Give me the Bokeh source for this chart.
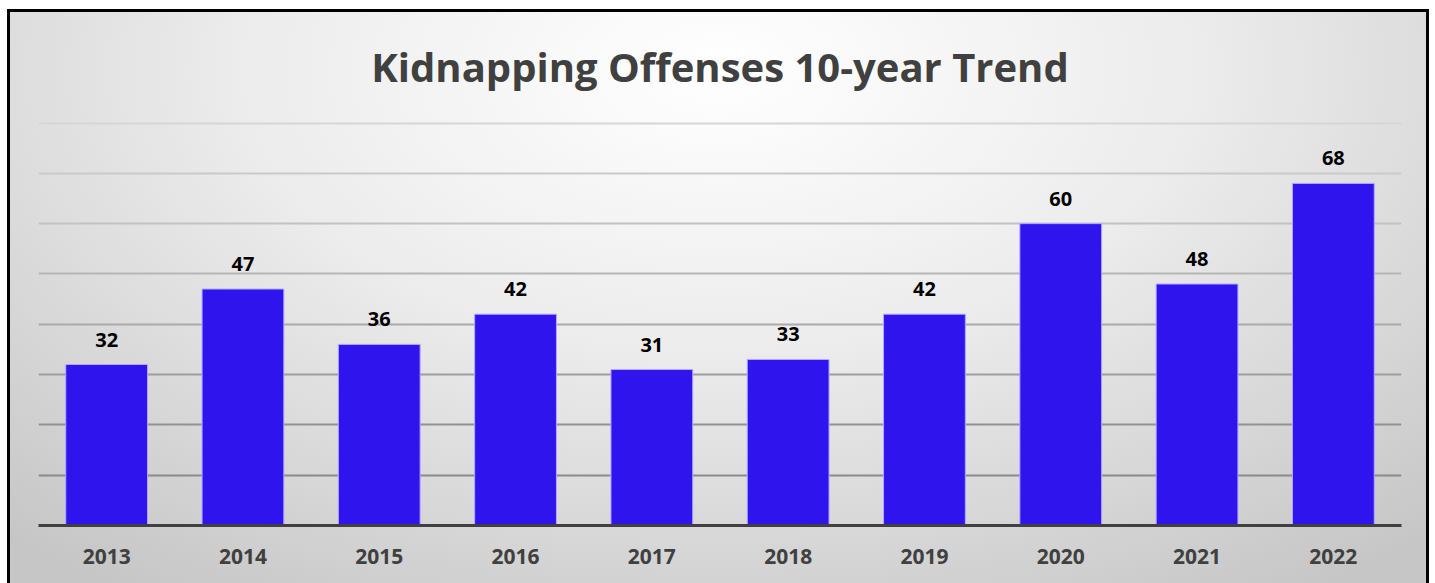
from bokeh.plotting import figure
from bokeh.models import ColumnDataSource, LabelSet, Grid, FixedTicker, Range1d
from bokeh.core.properties import value
from bokeh.embed import file_html
from bokeh.resources import INLINE

title_text = "Kidnapping Offenses 10-year Trend"
years = ["2013", "2014", "2015", "2016", "2017", "2018", "2019", "2020", "2021", "2022"]
offenses = [32, 47, 36, 42, 31, 33, 42, 60, 48, 68]
grid_levels = [10, 20, 30, 40, 50, 60, 70, 80]
grid_colors = ["#8a8a8a", "#929292", "#9e9e9e", "#aaaaaa", "#b6b6b6", "#c2c2c2", "#cacaca", "#d6d6d6"]

src = ColumnDataSource(dict(year=years, value=offenses, label=[str(v) for v in offenses]))

p = figure(x_range=years, y_range=Range1d(0, 80.3), width=1422, height=574,
           output_backend="svg", toolbar_location=None, y_axis_location=None,
           min_border_left=28, min_border_right=31, min_border_top=109, min_border_bottom=61)
p.styles = {"background": "radial-gradient(ellipse 75% 110% at 50% 10%, #ffffff 0%, #ececec 45%, #c6c6c6 100%)",
            "border-left": "3px solid #000000", "border-right": "3px solid #000000",
            "border-top": "3px solid #000000",
            "box-sizing": "border-box", "margin-left": "7px", "margin-top": "9px"}
p.background_fill_alpha = 0
p.border_fill_alpha = 0
p.outline_line_color = None

p.title.text = title_text
p.title.align = "center"
p.title.vertical_align = "top"
p.title.text_font = "Open Sans"
p.title.text_font_size = "40px"
p.title.text_font_style = "bold"
p.title.text_color = "#404040"
p.title.standoff = 52

p.xgrid.visible = False
p.ygrid.visible = False
for lvl, col in zip(grid_levels, grid_colors):
    g = Grid(dimension=1, ticker=FixedTicker(ticks=[lvl]), grid_line_color=col, grid_line_width=2)
    p.add_layout(g)

p.vbar(x="year", top="value", width=0.6, source=src, fill_color="#3014ee", line_color="#b0a8ff", line_width=1)

labels = LabelSet(x="year", y="value", text="label", source=src, text_align="center",
                  text_baseline="alphabetic", y_offset=18, text_font=value("Open Sans"),
                  text_font_size=value("20px"), text_font_style=value("bold"), text_color=value("#000000"))
p.add_layout(labels)

ax = p.xaxis[0]
ax.axis_line_color = "#404040"
ax.axis_line_width = 3
ax.major_tick_line_color = None
ax.minor_tick_line_color = None
ax.major_label_standoff = 17
ax.major_label_text_font = "Open Sans"
ax.major_label_text_font_size = "21px"
ax.major_label_text_font_style = "bold"
ax.major_label_text_color = "#404040"

open("out.html", "w").write(file_html(p, INLINE))
